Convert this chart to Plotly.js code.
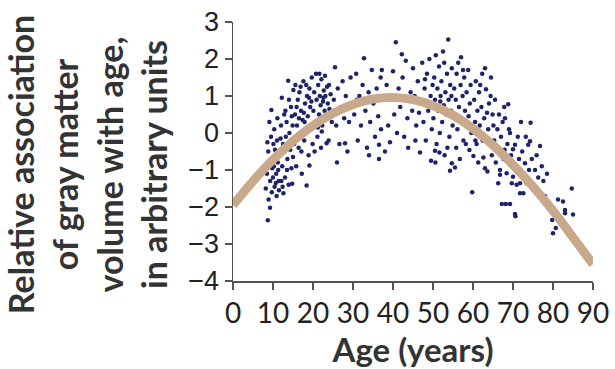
<!DOCTYPE html>
<html><head><meta charset="utf-8">
<script src="https://cdn.plot.ly/plotly-3.0.1.min.js"></script>
<style>html,body{margin:0;padding:0;background:#fff}#chart{width:615px;height:369px}</style>
</head><body><div id="chart"></div>
<script>
// Scatter data: [age in years, relative association]
const ages08to15 = [[8.2,-1.5],[8.7,-2.36],[9.25,-2.02],[9.7,-1.6],[8.5,-1.1],[9.0,-0.8],[9.3,-1.3],[9.6,0.62],[9.1,0.3],[8.8,-0.5],[10.0,-1.2],[10.2,-0.9],[10.4,-1.45],[10.6,-0.6],[10.1,-0.3],[10.8,-1.1],[10.9,-1.7],[11.0,-0.2],[11.2,-0.8],[11.4,-1.3],[9.5,-0.1],[8.9,-1.8],[10.3,0.1],[11.5,-1.55],[10.7,-1.35],[9.8,-0.95],[11.1,0.4],[8.6,-0.25],[10.5,-0.45],[11.3,-1.0],
[11.7,-0.6],[12.0,0.2],[12.2,0.95],[12.6,-1.63],[12.3,-0.9],[12.5,-0.3],[12.8,0.5],[13.0,-1.2],[13.2,-0.1],[13.4,0.3],[13.6,-0.7],[13.8,1.41],[13.9,-1.4],[14.1,0.0],[14.3,-0.45],[14.5,0.7],[14.8,-1.37],[14.6,-0.95],[14.9,0.2],[15.1,1.16],[12.1,-1.3],[12.9,-0.5],[13.5,-1.0],[14.0,0.9],[14.4,-0.2],[15.0,-0.65],[11.9,-0.15],[13.1,0.6],[14.7,0.45],[12.4,-1.45]];
const ages15to25 = [[15.3,-0.3],[15.5,0.5],[15.6,1.3],[15.8,-0.9],[16.0,0.2],[16.2,0.9],[16.4,-0.4],[16.6,1.1],[16.8,0.0],[17.0,0.6],[17.2,-1.1],[17.4,0.35],[17.6,1.4],[17.8,-0.2],[18.0,0.8],[18.2,0.1],[18.4,-1.42],[18.5,1.0],[18.7,0.45],[18.9,-0.6],[19.1,1.2],[19.3,0.7],[19.5,0.2],[19.7,1.5],[19.9,-0.3],[16.5,0.4],[17.1,-0.5],[17.9,0.3],[18.3,1.3],[19.0,0.95],[15.9,0.7],[16.9,1.25],[17.7,0.55],[18.8,0.05],[19.6,0.85],[19.1,-0.88],
[20.1,0.6],[20.3,1.1],[20.5,0.3],[20.75,1.6],[20.9,0.9],[21.1,-0.1],[21.3,1.3],[21.5,0.5],[21.7,1.0],[21.9,0.75],[22.1,1.45],[22.3,0.2],[22.5,0.85],[22.7,1.15],[22.9,0.6],[23.1,1.0],[23.3,0.4],[23.5,1.25],[23.7,0.8],[23.9,-0.2],[24.1,0.65],[24.4,1.05],[24.7,0.3],[20.4,-0.5],[21.6,1.6],[22.0,-0.4],[23.0,1.55],[24.0,1.3],[21.2,0.15],[22.6,0.95],[22.2,0.04],[23.4,-0.28]];
const ages25to45 = [[25.2,0.9],[25.5,1.78],[25.8,0.2],[26.2,1.2],[26.6,-0.3],[27.0,0.7],[27.4,1.4],[27.8,0.4],[28.2,1.0],[28.6,-0.5],[29.0,0.3],[29.4,1.5],[29.8,0.8],[26.0,-0.8],[28.0,-0.28],
[30.3,0.5],[30.8,1.6],[31.2,-0.2],[31.6,1.0],[32.0,0.2],[32.4,1.3],[32.75,2.02],[33.1,0.6],[33.5,-0.4],[33.9,1.1],[34.3,0.3],[34.7,1.7],[35.1,0.8],[35.5,-0.1],[35.9,1.2],[36.3,0.45],[36.5,-0.32],[36.5,-0.7],[36.9,1.5],[37.2,1.7],[37.6,0.9],[38.0,-0.5],[38.4,1.3],[38.8,0.2],[39.25,-0.25],[39.6,1.0],[31.0,0.9],[34.0,-0.6],[37.0,0.1],
[40.0,1.67],[40.3,0.5],[40.7,2.45],[41.0,0.0],[41.4,1.2],[41.8,0.7],[42.2,2.13],[42.4,1.5],[42.8,-0.1],[43.2,1.95],[43.6,0.4],[43.8,-0.4],[44.4,1.1],[44.8,0.6],[45.0,1.75]];
const ages45to60 = [[45.4,1.0],[45.8,0.2],[46.2,1.4],[46.75,-0.53],[47.0,0.8],[47.3,1.9],[47.6,0.3],[47.9,1.2],[48.2,-0.2],[48.5,1.6],[48.8,0.6],[49.1,2.0],[49.4,1.0],[49.7,0.1],[46.5,0.55],[48.0,1.45],[49.9,1.3],[45.6,-0.2],[49.5,-0.75],
[50.1,0.4],[50.3,1.5],[50.5,0.9],[50.7,2.1],[50.9,-0.3],[51.1,1.2],[51.3,0.6],[51.5,1.8],[51.7,0.0],[51.9,1.0],[52.1,1.4],[52.3,0.3],[52.5,2.2],[52.7,0.75],[52.9,-0.6],[53.1,1.1],[53.3,0.5],[53.5,1.6],[53.8,2.53],[53.9,0.9],[54.1,-0.1],[54.3,1.3],[54.5,0.6],[54.7,1.75],[54.9,0.2],[50.6,-0.8],[51.8,0.85],[52.8,1.9],[53.6,-0.4],[54.6,1.0],[54.25,-1.02],[54.7,-0.82],[51.6,-0.53],[50.5,-0.48],
[55.1,0.5],[55.3,1.2],[55.5,-0.93],[55.7,0.9],[55.9,1.6],[56.1,0.1],[56.3,1.9],[56.5,0.7],[56.7,-0.7],[56.9,1.3],[57.0,2.05],[57.2,0.3],[57.4,1.0],[57.6,-0.2],[57.8,1.5],[58.0,0.6],[58.2,-0.3],[58.4,1.1],[58.6,0.2],[58.8,1.7],[59.1,-0.46],[59.2,0.8],[59.4,1.3],[59.6,0.0],[59.8,-1.6],[55.8,-0.4],[57.5,1.7],[58.9,0.45]];
const ages60to86 = [[60.1,-0.62],[60.3,0.9],[60.5,0.3],[60.7,1.4],[60.9,-0.3],[61.1,0.6],[61.3,-0.8],[61.5,1.1],[61.7,0.2],[61.9,-0.1],[62.1,0.7],[62.3,1.6],[62.6,-0.66],[62.8,0.4],[63.0,-0.95],[63.0,1.75],[63.25,1.18],[63.6,-1.04],[63.8,0.1],[64.0,0.8],[64.2,-0.3],[64.5,1.5],[64.7,-0.6],[64.9,0.5],[60.6,-0.2],[61.8,1.3],[62.4,-0.2],[63.5,0.55],[64.4,1.0],[61.0,0.0],
[65.1,0.2],[65.3,-0.2],[65.5,0.9],[65.9,-0.46],[66.3,-1.36],[66.5,0.5],[66.75,-1.13],[66.75,-1.0],[67.0,-0.1],[67.2,-1.92],[67.4,0.3],[67.6,-0.7],[67.8,0.7],[68.2,-1.92],[68.4,-1.09],[68.6,-0.3],[68.8,0.78],[69.0,0.1],[69.25,0.0],[69.25,-1.92],[69.5,-0.6],[69.7,-1.36],[69.9,-0.9],[65.7,-0.8],[66.1,0.1],[67.9,-0.45],[68.0,0.4],[66.9,-0.6],
[70.0,-0.44],[70.0,-1.18],[70.5,-0.32],[70.5,-0.95],[70.5,-2.19],[70.6,-2.25],[70.9,-1.4],[71.2,-0.1],[71.5,-0.7],[71.75,-1.36],[71.75,-1.63],[72.0,0.3],[72.3,-0.5],[72.6,-1.63],[73.0,-0.82],[73.2,-0.1],[73.4,-1.36],[73.8,-0.32],[74.0,-1.0],[74.25,-0.22],[74.25,-1.4],[74.4,0.28],[74.7,-0.7],[71.0,-1.0],[72.8,-1.2],
[75.1,-1.54],[75.5,-1.0],[75.9,-0.6],[75.9,-1.58],[76.3,-1.2],[76.75,-0.35],[77.2,-0.9],[77.6,-1.3],[78.0,-1.7],[78.5,-1.1],[79.0,-2.0],[79.8,-2.35],[80.0,-2.71],[80.7,-2.57],[81.25,-1.8],[82.5,-1.85],[83.0,-2.08],[83.0,-2.17],[84.7,-1.5],[85.0,-2.2]];

// Fitted trend curve
const curveAge = [0,5,10,15,20,25,30,35,40,45,50,55,60,65,70,75,80,85,90];
const curveVal = [-1.95,-1.3,-0.72,-0.22,0.2,0.53,0.77,0.92,0.96,0.9,0.74,0.48,0.12,-0.33,-0.86,-1.45,-2.1,-2.82,-3.55];

const xTicks = [0,10,20,30,40,50,60,70,80,90];
const yTicks = [-4,-3,-2,-1,0,1,2,3];
const yTickText = ['\u22124','\u22123','\u22122','\u22121','0','1','2','3'];

const allPts = [].concat(ages08to15, ages15to25, ages25to45, ages45to60, ages60to86);

const traces = [
  {type:'scatter', mode:'markers', x: allPts.map(p=>p[0]), y: allPts.map(p=>p[1]),
   marker:{color:'#1d2468', size:4.5}, hoverinfo:'skip', cliponaxis:false},
  {type:'scatter', mode:'lines', x: curveAge, y: curveVal,
   line:{color:'#c9a98b', width:9, shape:'spline'}, hoverinfo:'skip'}
];

const layout = {
  width:615, height:369,
  margin:{l:233, r:22, t:22, b:88},
  paper_bgcolor:'#fff', plot_bgcolor:'#fff',
  showlegend:false,
  xaxis:{range:[0,90], tickvals:xTicks, ticks:'outside', ticklen:7, tickwidth:1.5, tickcolor:'#555',
         showline:true, linecolor:'#555', linewidth:1.5, showgrid:false, zeroline:false,
         tickfont:{family:'Lato', size:28, color:'#222'},
         title:{text:'<b>Age (years)</b>', font:{family:'Lato', size:33, color:'#333'}, standoff:8}},
  yaxis:{range:[-4,3], tickvals:yTicks, ticktext:yTickText, ticks:'outside', ticklen:7, tickwidth:1.5, tickcolor:'#555',
         showline:true, linecolor:'#555', linewidth:1.5, showgrid:false, zeroline:false,
         tickfont:{family:'Liberation Sans', size:27, color:'#222'}},
  annotations:[{
    xref:'paper', yref:'paper', x:-0.405, y:0.448, xanchor:'center', yanchor:'middle',
    textangle:-90, showarrow:false, align:'center',
    text:'<b>Relative association<br>of gray matter<br>volume with age,<br>in arbitrary units</b>',
    font:{family:'Lato', size:34, color:'#333'}
  }]
};
Plotly.newPlot('chart', traces, layout, {staticPlot:true, displayModeBar:false});
</script>
</body></html>
